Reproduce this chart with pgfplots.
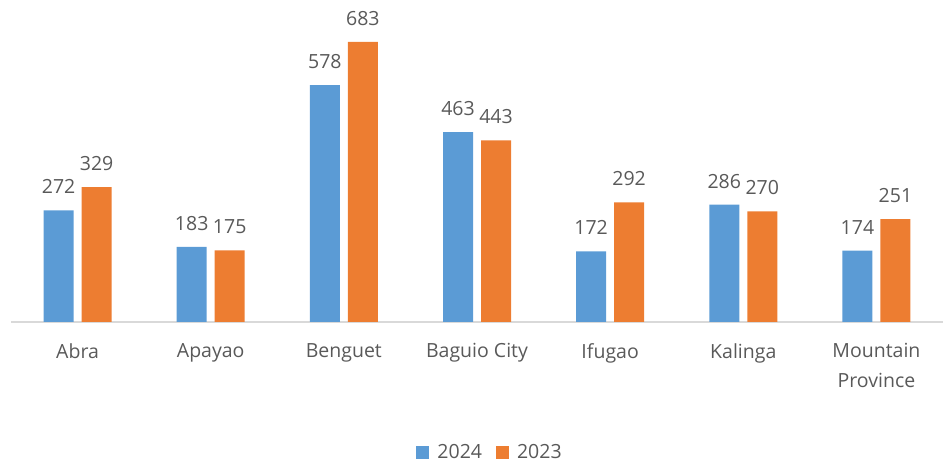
\documentclass[border=0pt]{standalone}
\usepackage{pgfplots}
\pgfplotsset{compat=1.18}
\usepackage{fontspec}
\setmainfont{Open Sans}
\definecolor{cblue}{HTML}{5B9BD5}
\definecolor{corange}{HTML}{ED7D31}
\definecolor{txt}{HTML}{595959}
\definecolor{base}{HTML}{D9D9D9}
\begin{document}
\begin{tikzpicture}
\useasboundingbox (0,0) rectangle (943pt,466pt);
\begin{axis}[
  at={(11pt,144pt)}, anchor=south west,
  scale only axis, width=932pt, height=312pt,
  ybar=8pt, bar width=30pt,
  xmin=-0.5, xmax=6.5, ymin=0, ymax=761,
  axis y line=none,
  axis x line*=bottom,
  x axis line style={base, line width=1.5pt, -},
  xtick=data,
  xticklabels={Abra,Apayao,Benguet,Baguio City,Ifugao,Kalinga,{Mountain\\Province}},
  xticklabel style={align=center, font=\fontsize{19.5}{30}\selectfont, text=txt, yshift=-18pt},
  major tick length=0pt,
  nodes near coords,
  nodes near coords style={font=\fontsize{19.5}{22}\selectfont, text=txt, yshift=13pt},
  /pgf/number format/assume math mode=true,
  legend style={at={(0.514,-0.417)}, anchor=center, draw=none, legend columns=2,
    font=\fontsize{19.5}{22}\selectfont, text=txt,
    /tikz/every odd column/.append style={column sep=6pt},
    /tikz/every even column/.append style={column sep=12pt}},
  legend image code/.code={\fill[#1] (0pt,-6.5pt) rectangle (13pt,6.5pt);},
]
\addplot[draw=none, fill=cblue] coordinates {(0,272) (1,183) (2,578) (3,463) (4,172) (5,286) (6,174)};
\addplot[draw=none, fill=corange] coordinates {(0,329) (1,175) (2,683) (3,443) (4,292) (5,270) (6,251)};
\legend{2024,2023}
\end{axis}
\end{tikzpicture}
\end{document}
